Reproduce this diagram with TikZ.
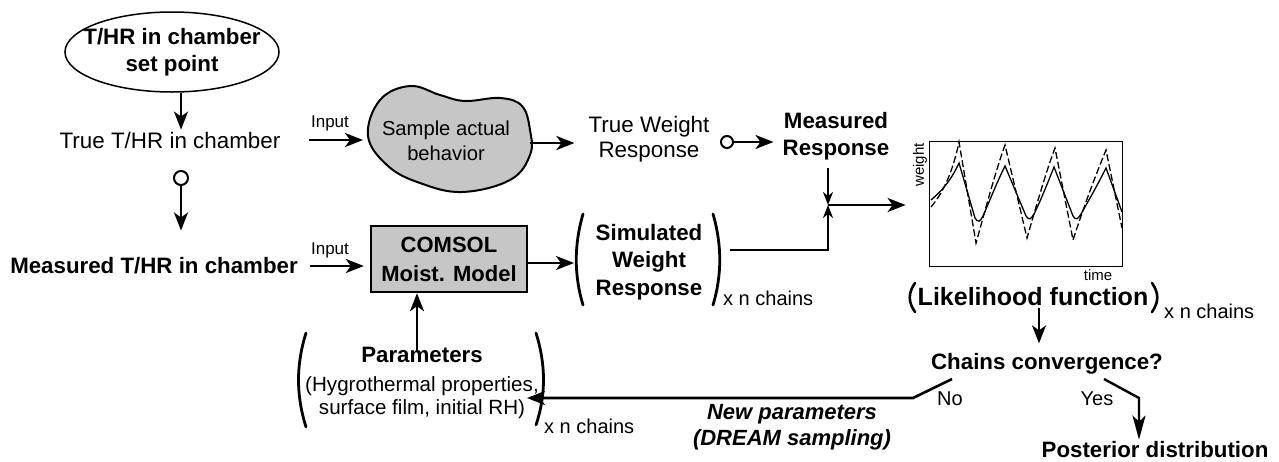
\documentclass[tikz,border=0pt]{standalone}
\usepackage{fontspec}
\setmainfont{Liberation Sans}
\usetikzlibrary{shapes.geometric,arrows.meta}
\definecolor{fillgray}{RGB}{198,198,198}
\begin{document}
\begin{tikzpicture}[x=1pt,y=-1pt,
  rtxt/.style={font=\fontsize{22.4}{25}\selectfont, align=center, inner sep=2pt},
  btxt/.style={font=\fontsize{22.3}{27}\selectfont\bfseries, align=center, inner sep=2pt},
  stxt/.style={font=\fontsize{17}{20}\selectfont, inner sep=1pt},
  ntxt/.style={font=\fontsize{20}{24}\selectfont, inner sep=1pt},
  arr/.style={line width=2.6pt, -{Stealth[length=18pt,width=14pt,inset=5pt]}},
  arrs/.style={line width=2.1pt, -{Stealth[length=13pt,width=10pt,inset=4pt]}},
  paren/.style={line width=2.8pt, line cap=round},
  ring/.style={circle, draw, line width=2pt, fill=white, inner sep=0pt},
  dcurve/.style={line width=1.3pt, dash pattern=on 7pt off 3pt},
  scurve/.style={line width=1.3pt},
]
\useasboundingbox (0,0) rectangle (1279,461);

% set point
\node[btxt, ellipse, draw, line width=1.5pt, minimum width=214pt, minimum height=80pt, inner xsep=-16pt, inner ysep=0pt, fill=white] (sp) at (172,52) {T/HR in chamber\\set point};
\node[rtxt] (tt) at (170,140) {True T/HR in chamber};
\coordinate (xa) at (181,0);
\draw[arr] (sp.south -| xa) -- (tt.north -| xa);

\node[ring, minimum size=14pt] (c1) at (181,178) {};
\node[btxt] (mt) at (154,266) {Measured T/HR in chamber};
\draw[arr, shorten >=25pt] (c1.south) -- (c1.south |- mt.north);

% blob
\draw[line width=2pt, fill=fillgray] plot[smooth cycle, tension=0.65] coordinates
  {(368,136) (380,100) (410,86) (440,95) (465,101) (500,98) (522,106) (530,130) (530,155) (510,180) (462,192) (420,183) (388,166)};
\node[font=\fontsize{20.2}{25}\selectfont, align=center, inner sep=2pt] (bt) at (446,141) {Sample actual\\behavior};
\coordinate (bW) at (368,140);
\coordinate (bE) at (530,143);
\node[stxt] (in1) at (330,123) {Input};
\draw[arr, shorten <=26pt, shorten >=5pt] (tt.east) -- (tt.east -| bW);

\node[rtxt] (tw) at (649,139) {True Weight\\Response};
\draw[arr, shorten >=12pt] (bE) -- (bE -| tw.west);

\node[ring, minimum size=12pt] (c2) at (727,142) {};
\node[btxt] (mr) at (836,136) {Measured\\Response};
\draw[arr, shorten >=7pt] (c2.east) -- (c2.east -| mr.west);

\coordinate (j) at (828,205);
\draw[arrs, shorten <=6pt] (j |- mr.south) -- (j);

% COMSOL
\node[draw, line width=2.4pt, fill=fillgray, minimum width=156pt, minimum height=66pt, inner sep=0pt,
      font=\fontsize{22}{29}\selectfont\bfseries, align=center] (cb) at (449,259) {COMSOL\\Moist. Model};
\node[stxt] (in2) at (330,250) {Input};
\draw[arr, shorten <=10pt, shorten >=6pt] (mt.east) -- (mt.east -| cb.west);

% simulated
\node[font=\fontsize{22.3}{27.5}\selectfont\bfseries, align=center, inner sep=2pt] (sim) at (649,262) {Simulated\\Weight\\Response};
\coordinate (simL) at (574,263);
\draw[arr] (cb.east |- simL) -- (simL);
\draw[paren] (583,214) .. controls (574,245) and (574,275) .. (583,305);
\draw[paren] (713,214) .. controls (722,245) and (722,275) .. (713,305);
\node[ntxt, anchor=west] (xn1) at (722,298) {x n chains};
\coordinate (simR) at (730,250);
\draw[arrs] (simR) -| (j);

% plot
\node[draw, line width=1.8pt, minimum width=193pt, minimum height=125pt, inner sep=0pt] (plot) at (1026,204) {};
\draw[arr, shorten >=23pt] (j) -- (j -| plot.west);
\node[font=\fontsize{15}{18}\selectfont, rotate=90, inner sep=0pt] (wl) at (920,165) {weight};
\node[font=\fontsize{15}{18}\selectfont, inner sep=0pt] (tl) at (1098,275) {time};
\draw[dcurve] (931,207) .. controls (945,190) and (953,170) .. (959,142) -- (976,243) .. controls (988,200) and (996,170) .. (1005,145) -- (1027,238) .. controls (1038,200) and (1046,172) .. (1055,148) -- (1073,240) .. controls (1086,200) and (1097,172) .. (1106,150) -- (1122,228);
\draw[scurve] (931,200) .. controls (945,188) and (952,178) .. (959,163) -- (975,218) .. controls (978,223) and (980,222) .. (983,216) .. controls (990,200) and (997,182) .. (1005,166) -- (1026,216) .. controls (1029,221) and (1031,219) .. (1034,214) .. controls (1041,200) and (1048,182) .. (1054,167) -- (1073,216) .. controls (1076,221) and (1078,219) .. (1081,214) .. controls (1089,200) and (1098,184) .. (1106,168) -- (1122,212);

% likelihood
\node[font=\fontsize{25}{30}\selectfont\bfseries, inner sep=2pt] (lik) at (1033,297) {Likelihood function};
\draw[paren, line width=2.6pt] (915,283) .. controls (908,293) and (908,302) .. (915,312);
\draw[paren, line width=2.6pt] (1152,283) .. controls (1159,293) and (1159,302) .. (1152,312);
\node[ntxt, anchor=west] (xn3) at (1163,311) {x n chains};

\node[btxt] (conv) at (1047,364) {Chains convergence?};
\coordinate (ax) at (1039,0);
\draw[arr, line width=2.1pt, shorten >=8pt] (ax |- lik.south) -- (ax |- conv.north);

% parameters
\node[font=\fontsize{20.6}{23}\selectfont, align=center, inner sep=2pt] (pars) at (422,383)
  {{\fontsize{22.3}{23}\selectfont\bfseries Parameters}\\[6pt](Hygrothermal properties,\\surface film, initial RH)};
\draw[paren] (306,333) .. controls (296,365) and (296,395) .. (306,427);
\draw[paren] (536,333) .. controls (546,365) and (546,395) .. (536,425);
\node[ntxt, anchor=west] (xn2) at (543,426) {x n chains};
\coordinate (ua) at (417,0);
\draw[arr, shorten <=-6pt] (ua |- pars.north) -- (ua |- cb.south);

% No branch
\coordinate (n1) at (952,379);
\coordinate (n2) at (913,398);
\node[ntxt] (no) at (950,399) {No};
\draw[arr, shorten >=-14pt] (n1) -- (n2) -- (n2 -| pars.east);
\node[font=\fontsize{22}{26}\selectfont\bfseries\itshape, align=center, inner sep=2pt] (np) at (792,427) {New parameters\\(DREAM sampling)};

% Yes branch
\coordinate (y1) at (1104,379);
\coordinate (y2) at (1139,398);
\node[ntxt] (yes) at (1097,399) {Yes};
\node[btxt] (post) at (1155,450) {Posterior distribution};
\draw[line width=2.4pt, -{Stealth[length=24pt,width=13pt,inset=6pt]}] (y1) -- (y2) -- (y2 |- post.north);
\end{tikzpicture}
\end{document}
